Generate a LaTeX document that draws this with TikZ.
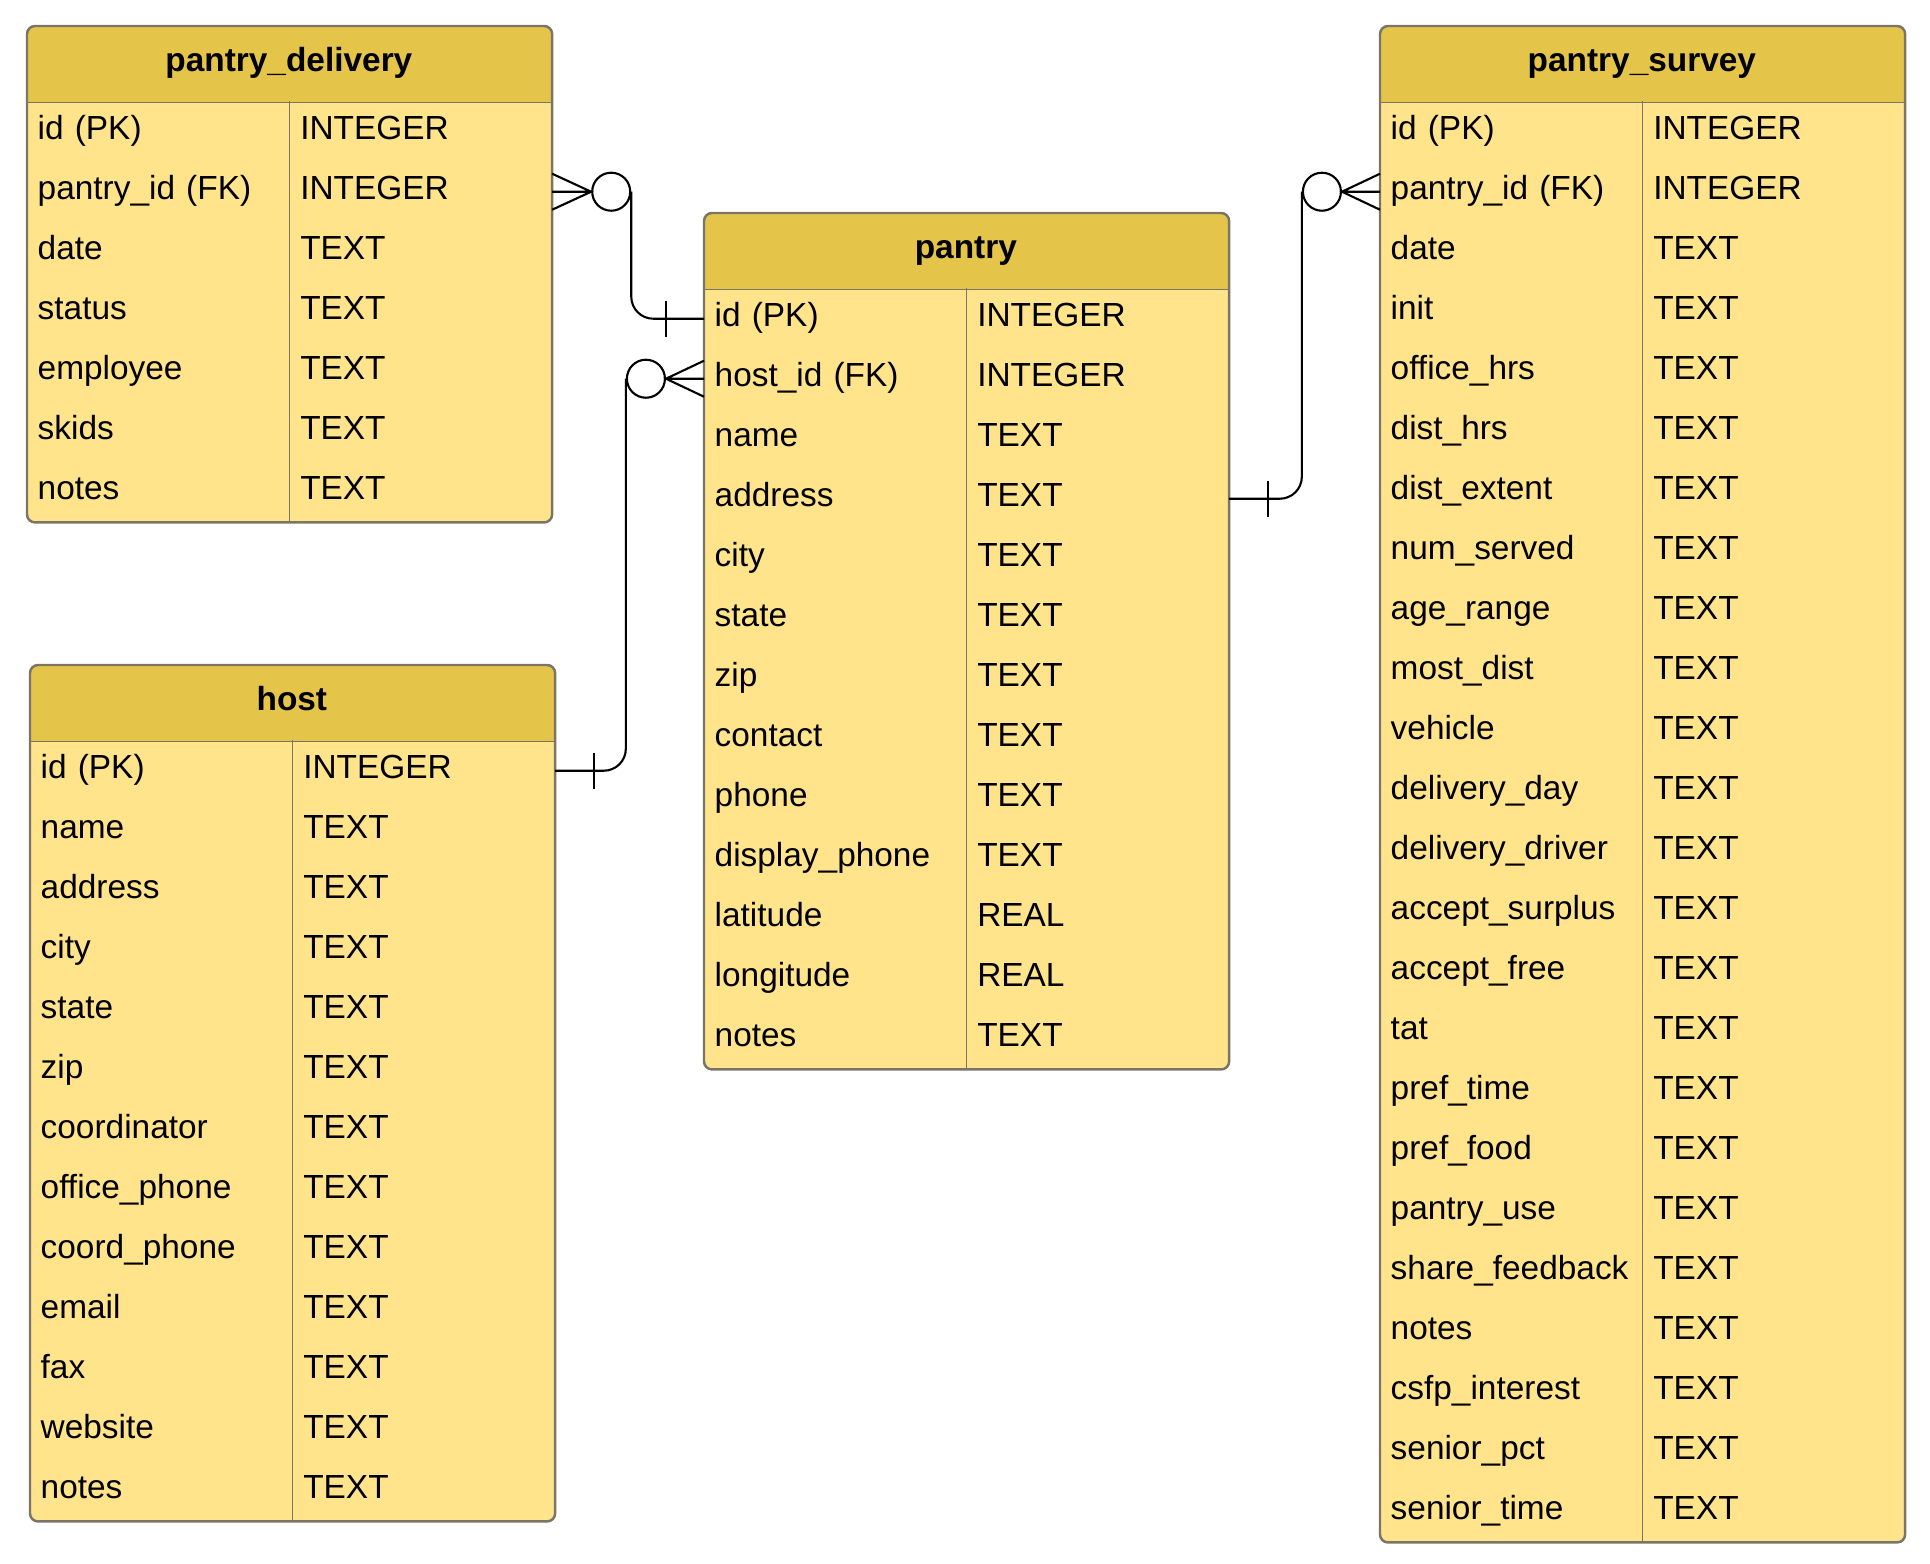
\documentclass[tikz,border=0pt]{standalone}
\usepackage{fontspec}
\setmainfont{Liberation Sans}
\usepackage{tikz}
\usetikzlibrary{positioning}
\usetikzlibrary{backgrounds}

\definecolor{headgold}{HTML}{E4C54A}
\definecolor{bodygold}{HTML}{FFE48B}
\definecolor{framegray}{HTML}{7A7567}

\begin{document}
\begin{tikzpicture}[
            x=0.01cm, y=-0.01cm,
            table head/.style={anchor=north west, minimum width=5.22cm, minimum height=0.75cm, inner sep=0pt,
                text height=0.24cm, text depth=0.09cm, font=\fontsize{9.5}{11}\selectfont\bfseries},
            name cell/.style={anchor=north west, minimum height=0.6cm, text width=2.41cm, inner xsep=0.1cm,
                inner ysep=0pt, align=left, text height=0.24cm, text depth=0.09cm, font=\fontsize{9.5}{11}\selectfont},
            type cell/.style={name cell, right=0cm of #1},
            link/.style={draw, line width=0.6pt},
            zero end/.style={circle, draw, fill=white, line width=0.6pt, minimum size=0.38cm, inner sep=0pt},
            ]

            \useasboundingbox (0,0) rectangle (1930,1564);

            % pantry_delivery
            \node[table head] (pd) at (27,26) {pantry\_delivery};
            \foreach \n/\t [count=\i] in {{id (PK)}/INTEGER, {pantry\_id (FK)}/INTEGER, date/TEXT, status/TEXT,
                    employee/TEXT, skids/TEXT, notes/TEXT} {
                \node[name cell] (pd-\i) at (27,{101+60*(\i-1)}) {\n};
                \node[type cell=pd-\i] (pd-\i-t) {\t};
            }

            % pantry
            \node[table head] (p) at (704,213) {pantry};
            \foreach \n/\t [count=\i] in {{id (PK)}/INTEGER, {host\_id (FK)}/INTEGER, name/TEXT, address/TEXT,
                    city/TEXT, state/TEXT, zip/TEXT, contact/TEXT, phone/TEXT, display\_phone/TEXT,
                    latitude/REAL, longitude/REAL, notes/TEXT} {
                \node[name cell] (p-\i) at (704,{288+60*(\i-1)}) {\n};
                \node[type cell=p-\i] (p-\i-t) {\t};
            }

            % host
            \node[table head] (h) at (30,665) {host};
            \foreach \n/\t [count=\i] in {{id (PK)}/INTEGER, name/TEXT, address/TEXT, city/TEXT, state/TEXT,
                    zip/TEXT, coordinator/TEXT, office\_phone/TEXT, coord\_phone/TEXT, email/TEXT, fax/TEXT,
                    website/TEXT, notes/TEXT} {
                \node[name cell] (h-\i) at (30,{740+60*(\i-1)}) {\n};
                \node[type cell=h-\i] (h-\i-t) {\t};
            }

            % pantry_survey
            \node[table head] (ps) at (1380,26) {pantry\_survey};
            \foreach \n/\t [count=\i] in {{id (PK)}/INTEGER, {pantry\_id (FK)}/INTEGER, date/TEXT, init/TEXT,
                    office\_hrs/TEXT, dist\_hrs/TEXT, dist\_extent/TEXT, num\_served/TEXT, age\_range/TEXT,
                    most\_dist/TEXT, vehicle/TEXT, delivery\_day/TEXT, delivery\_driver/TEXT,
                    accept\_surplus/TEXT, accept\_free/TEXT, tat/TEXT, pref\_time/TEXT, pref\_food/TEXT,
                    pantry\_use/TEXT, share\_feedback/TEXT, notes/TEXT, csfp\_interest/TEXT,
                    senior\_pct/TEXT, senior\_time/TEXT} {
                \node[name cell] (ps-\i) at (1380,{101+60*(\i-1)}) {\n};
                \node[type cell=ps-\i] (ps-\i-t) {\t};
            }

            % table boxes
            \begin{scope}[on background layer]
                \foreach \tb/\last in {pd/7, p/13, h/13, ps/24} {
                    \begin{scope}
                        \clip[rounded corners=0.08cm] (\tb.north west) rectangle (\tb-\last-t.south east);
                        \fill[bodygold] (\tb.north west) rectangle (\tb-\last-t.south east);
                        \fill[headgold] (\tb.north west) rectangle (\tb.south east);
                    \end{scope}
                }
            \end{scope}
            \foreach \tb/\last in {pd/7, p/13, h/13, ps/24} {
                \draw[framegray, line width=0.5pt] (\tb.south west) -- (\tb.south east)
                    (\tb-1.north east) -- (\tb-\last.south east);
                \draw[framegray, line width=0.7pt, rounded corners=0.08cm]
                    (\tb.north west) rectangle (\tb-\last-t.south east);
            }

            % pantry_delivery -> pantry
            \node[zero end, right=0.39cm of pd-2-t.east] (c1) {};
            \draw[link] ([yshift=0.18cm]pd-2-t.east) -- (c1.west) -- ([yshift=-0.18cm]pd-2-t.east)
                (pd-2-t.east) -- (c1.west);
            \draw[link, rounded corners=0.22cm] (c1.east) |- (p-1.west);
            \draw[link] ([xshift=-0.38cm, yshift=0.18cm]p-1.west) -- ([xshift=-0.38cm, yshift=-0.18cm]p-1.west);

            % pantry -> host
            \node[zero end, left=0.38cm of p-2.west] (c2) {};
            \draw[link] ([yshift=0.18cm]p-2.west) -- (c2.east) -- ([yshift=-0.18cm]p-2.west)
                (p-2.west) -- (c2.east);
            \draw[link, rounded corners=0.22cm] (c2.west) |- (h-1-t.east);
            \draw[link] ([xshift=0.39cm, yshift=0.18cm]h-1-t.east) -- ([xshift=0.39cm, yshift=-0.18cm]h-1-t.east);

            % pantry_survey -> pantry
            \node[zero end, left=0.38cm of ps-2.west] (c3) {};
            \draw[link] ([yshift=0.18cm]ps-2.west) -- (c3.east) -- ([yshift=-0.18cm]ps-2.west)
                (ps-2.west) -- (c3.east);
            \draw[link, rounded corners=0.22cm] (c3.west) |- (p-4-t.east);
            \draw[link] ([xshift=0.39cm, yshift=0.18cm]p-4-t.east) -- ([xshift=0.39cm, yshift=-0.18cm]p-4-t.east);
        \end{tikzpicture}
\end{document}
